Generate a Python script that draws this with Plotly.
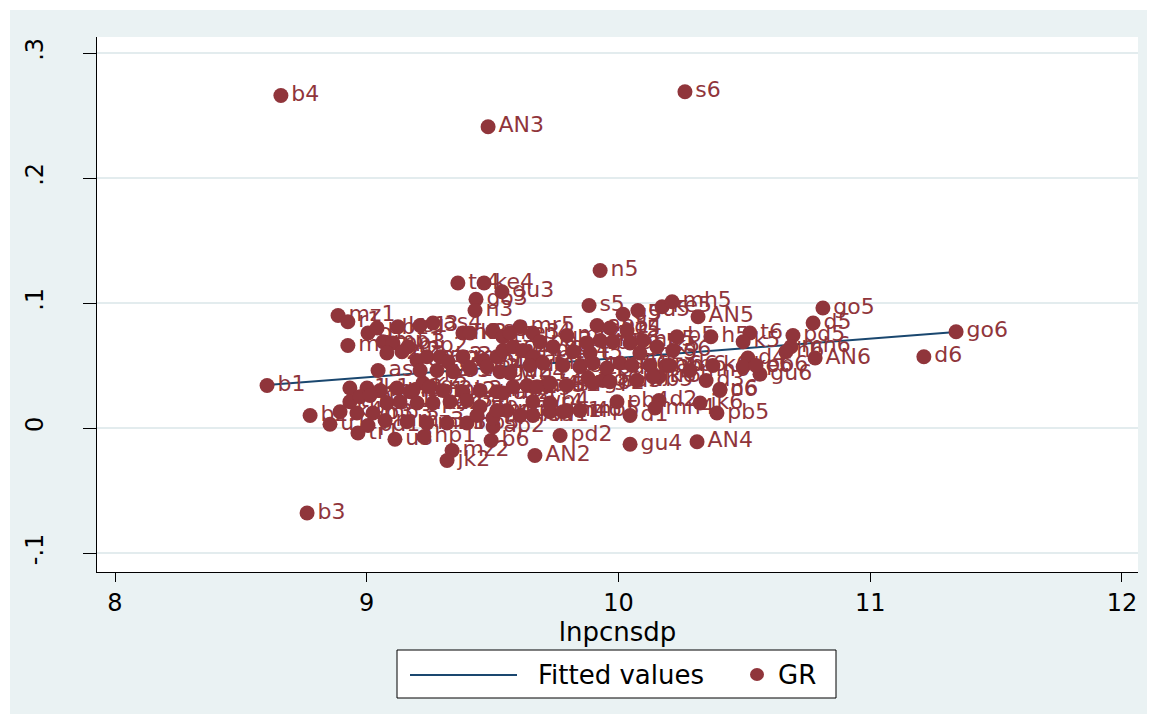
import plotly.graph_objects as go

# ---------------- data ----------------
labels = [
    "b4", "s6", "AN3", "n5", "b3", "tr4", "ke4", "gu3", "go3", "n3",
    "s5", "g5", "gu5", "ke5", "mh5", "AN5", "go5", "d5", "go6", "d6",
    "AN6", "t6", "k5", "pd5", "mh6", "h6", "d4", "ke6", "gu6", "n6",
    "d3", "ap6", "mn6", "tr6", "b5", "h5", "pb5", "AN4", "gu4", "pd2",
    "AN2", "b6", "mz2", "jk2", "hp1", "u3", "tr1", "u1", "b2", "b1",
    "mz1", "r1", "m1", "as1", "d1", "d2", "pb4", "mn4", "mr6", "AN1",
    "go1", "ap2", "mp4", "gu2", "as4", "mr5", "ap5", "k2", "tr5", "o1",
    "pb1", "ke1", "g3", "h3", "k3", "s3", "t3", "mp1", "pb3", "mp2",
    "r2", "o2", "u2", "wb2", "ap3", "r3", "m3", "mh3", "g4", "ap1",
    "wb1", "o3", "as3", "h4", "g1", "jk1", "mn1", "m2", "mn2", "g2",
    "mh2", "t2", "u4", "as2", "tr2", "h1", "k1", "mr1", "s1", "t1",
    "hp2", "ke2", "jk3", "o4", "pb2", "mr2", "pd1", "mz3", "mn3", "mr3",
    "hp3", "s4", "t4", "wb3", "jk4", "mp3", "k4", "go4", "as5", "gu1",
    "wb4", "r4", "mp5", "mr4", "hp5", "tr3", "m4", "g6", "wb6", "k6",
    "o6", "jk6", "ke3", "n4", "pd3", "mh4", "mz4", "o5", "mp6", "ap4",
    "h6", "k4", "t5", "go4", "r5", "mp6", "o5", "wb5", "as5", "hp5",
    "jk5", "g6", "mz5", "wb4", "u5", "m5", "r5", "s4", "mn5", "pd4",
    "u6", "o6", "hp6", "pd3", "wb5", "jk6", "t4", "s4", "go2", "pb6",
]

lnpcnsdp = [
    8.659, 10.264, 9.482, 9.927, 8.763, 9.362, 9.466, 9.537, 9.434, 9.430,
    9.883, 10.018, 10.077, 10.173, 10.213, 10.316, 10.812, 10.773, 11.341, 11.213,
    10.781, 10.522, 10.495, 10.693, 10.685, 10.665, 10.514, 10.495, 10.562, 10.403,
    10.348, 10.189, 10.284, 10.161, 10.232, 10.367, 10.391, 10.312, 10.046, 9.768,
    9.668, 9.494, 9.339, 9.319, 9.227, 9.112, 8.965, 8.854, 8.775, 8.604,
    8.886, 8.925, 8.925, 9.045, 10.046, 10.161, 9.994, 10.145, 9.795, 9.660,
    9.728, 9.502, 9.517, 9.529, 9.263, 9.609, 9.915, 9.223, 9.879, 9.005,
    9.041, 9.124, 9.212, 9.382, 9.410, 9.501, 9.541, 9.065, 9.104, 9.164,
    9.080, 9.140, 9.200, 9.239, 9.291, 9.323, 9.382, 9.462, 9.517, 9.212,
    9.279, 9.343, 9.410, 9.478, 8.933, 9.001, 9.053, 9.120, 9.184, 9.251,
    9.303, 9.382, 9.450, 9.541, 8.933, 8.973, 9.013, 9.172, 9.080, 9.132,
    9.200, 9.263, 9.331, 9.398, 9.450, 9.073, 9.005, 9.160, 9.239, 9.319,
    9.398, 9.438, 9.501, 8.961, 8.894, 9.025, 9.581, 9.637, 9.676, 9.716,
    9.660, 9.728, 9.847, 9.557, 9.517, 9.609, 9.780, 9.938, 10.205, 10.375,
    10.403, 10.324, 9.569, 9.660, 9.688, 9.795, 9.541, 9.581, 9.621, 9.660,
    9.740, 9.819, 9.887, 9.966, 10.034, 9.927, 9.978, 9.875, 10.046, 10.097,
    10.153, 10.216, 10.085, 9.569, 9.648, 9.700, 9.780, 9.847, 9.899, 9.954,
    10.006, 10.054, 10.125, 9.966, 10.073, 10.137, 9.728, 9.795, 9.899, 10.546,
]

gr = [
    0.266, 0.269, 0.241, 0.126, -0.068, 0.116, 0.116, 0.109, 0.103, 0.094,
    0.098, 0.091, 0.094, 0.097, 0.101, 0.089, 0.096, 0.084, 0.077, 0.057,
    0.056, 0.076, 0.069, 0.074, 0.065, 0.061, 0.056, 0.049, 0.043, 0.031,
    0.038, 0.050, 0.046, 0.041, 0.073, 0.073, 0.012, -0.011, -0.013, -0.006,
    -0.022, -0.010, -0.018, -0.026, -0.007, -0.009, -0.004, 0.003, 0.010, 0.034,
    0.090, 0.085, 0.066, 0.046, 0.010, 0.022, 0.021, 0.016, 0.014, 0.010,
    0.013, 0.001, 0.029, 0.045, 0.084, 0.081, 0.082, 0.036, 0.040, 0.076,
    0.080, 0.081, 0.082, 0.076, 0.076, 0.078, 0.073, 0.069, 0.068, 0.065,
    0.060, 0.061, 0.054, 0.057, 0.057, 0.053, 0.057, 0.054, 0.057, 0.046,
    0.046, 0.045, 0.048, 0.049, 0.032, 0.032, 0.030, 0.032, 0.030, 0.033,
    0.030, 0.029, 0.030, 0.028, 0.021, 0.025, 0.026, 0.029, 0.020, 0.021,
    0.020, 0.020, 0.021, 0.022, 0.017, 0.006, 0.002, 0.005, 0.004, 0.004,
    0.004, 0.010, 0.008, 0.012, 0.013, 0.012, 0.033, 0.034, 0.033, 0.034,
    0.021, 0.020, 0.014, 0.014, 0.014, 0.010, 0.013, 0.038, 0.050, 0.050,
    0.030, 0.020, 0.076, 0.076, 0.069, 0.074, 0.062, 0.065, 0.062, 0.057,
    0.065, 0.061, 0.060, 0.080, 0.078, 0.070, 0.069, 0.068, 0.068, 0.070,
    0.065, 0.062, 0.060, 0.044, 0.050, 0.052, 0.050, 0.049, 0.052, 0.048,
    0.052, 0.050, 0.050, 0.037, 0.038, 0.041, 0.036, 0.034, 0.036, 0.050,
]

# fitted regression line, end points
fit_x = [8.604, 11.341]
fit_y = [0.0344, 0.0768]

x_ticks = [8, 9, 10, 11, 12]
y_ticks = [-0.1, 0, 0.1, 0.2, 0.3]
y_tick_text = ["-.1", "0", ".1", ".2", ".3"]

legend_names = ["Fitted values", "GR"]

# ---------------- styling ----------------
MAROON = "#90353B"
NAVY = "#1A476F"
BG = "#EAF2F3"
GRID = "#E3ECEE"
FONT = "DejaVu Sans"

W, H = 1157, 724
L, R, T, B = 97, 19, 37, 152
PW, PH = W - L - R, H - T - B


def px_x(p):
    return (p - L) / PW


def px_y(p):
    return (H - B - p) / PH


fig = go.Figure()

fig.add_trace(go.Scatter(
    x=fit_x, y=fit_y, mode="lines", name=legend_names[0],
    line=dict(color=NAVY, width=2), showlegend=False,
))

fig.add_trace(go.Scatter(
    x=lnpcnsdp, y=gr, mode="markers+text", name=legend_names[1],
    text=labels, textposition="middle right",
    textfont=dict(family=FONT, size=22, color=MAROON),
    marker=dict(color=MAROON, size=15, line=dict(width=0)),
    cliponaxis=False, showlegend=False,
))

shapes = []
# white outer frame of the image
for (a, b, c, d) in [(0, 0, W, 10), (0, H - 10, W, H), (0, 0, 10, H), (W - 10, 0, W, H)]:
    shapes.append(dict(type="rect", xref="paper", yref="paper",
                       x0=px_x(a), x1=px_x(c), y0=px_y(d), y1=px_y(b),
                       fillcolor="white", line=dict(width=0), layer="above"))

# legend box (drawn by hand to match the original key layout)
shapes.append(dict(type="rect", xref="paper", yref="paper",
                   x0=px_x(397), x1=px_x(836), y0=px_y(698), y1=px_y(650),
                   fillcolor="white", line=dict(color="black", width=1)))
shapes.append(dict(type="line", xref="paper", yref="paper",
                   x0=px_x(410), x1=px_x(517), y0=px_y(675), y1=px_y(675),
                   line=dict(color=NAVY, width=2)))
shapes.append(dict(type="circle", xref="paper", yref="paper",
                   x0=px_x(750), x1=px_x(764), y0=px_y(681), y1=px_y(668),
                   fillcolor=MAROON, line=dict(width=0)))

annotations = [
    dict(text=legend_names[0], xref="paper", yref="paper", x=px_x(536), y=px_y(675),
         xanchor="left", yanchor="middle", showarrow=False,
         font=dict(family=FONT, size=26, color="black")),
    dict(text=legend_names[1], xref="paper", yref="paper", x=px_x(776), y=px_y(675),
         xanchor="left", yanchor="middle", showarrow=False,
         font=dict(family=FONT, size=26, color="black")),
]

fig.update_layout(
    width=W, height=H,
    margin=dict(l=L, r=R, t=T, b=B),
    paper_bgcolor=BG, plot_bgcolor="white",
    font=dict(family=FONT, color="black"),
    showlegend=False,
    shapes=shapes,
    annotations=annotations,
    xaxis=dict(
        range=[7.9285, 12.0636], tickvals=x_ticks,
        showgrid=False, zeroline=False,
        showline=True, linecolor="black", linewidth=1,
        ticks="outside", ticklen=9, tickcolor="black",
        tickfont=dict(family=FONT, size=24),
        ticklabelstandoff=0,
        title=dict(text="lnpcnsdp", font=dict(family=FONT, size=26), standoff=0),
    ),
    yaxis=dict(
        range=[-0.1152, 0.3128], tickvals=y_ticks, ticktext=y_tick_text,
        showgrid=True, gridcolor=GRID, gridwidth=2, zeroline=False,
        showline=True, linecolor="black", linewidth=1,
        ticks="outside", ticklen=13, tickcolor="black",
        tickangle=-90, tickfont=dict(family=FONT, size=24),
        ticklabelstandoff=30,
    ),
)

fig.write_html("out.html", config={"displayModeBar": False},
               post_script="document.body.style.margin='0px';")
